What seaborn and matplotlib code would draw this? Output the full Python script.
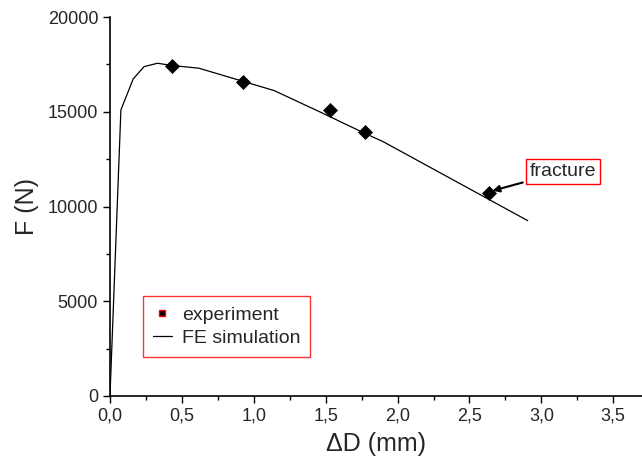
import matplotlib
matplotlib.use('Agg')
import matplotlib.pyplot as plt
from matplotlib.lines import Line2D
from matplotlib.ticker import MultipleLocator, FuncFormatter
import seaborn as sns

# FE simulation curve
fe_dd = [0.0, 0.076, 0.162, 0.238, 0.331, 0.433, 0.618, 0.928, 1.141, 1.458,
         1.775, 1.898, 2.905]
fe_force = [0, 15100, 16740, 17385, 17560, 17440, 17300, 16600, 16120, 15000,
            13850, 13430, 9255]

# experiment points
exp_dd = [0.433, 0.928, 1.528, 1.775, 2.639]
exp_force = [17440, 16595, 15100, 13955, 10735]

sns.set_style('ticks')
plt.rcParams['font.family'] = ['Liberation Sans', 'DejaVu Sans']

fig = plt.figure(figsize=(6.42, 4.65), dpi=100)
ax = fig.add_axes([0.1713, 0.1484, 0.8287, 0.815])

sns.lineplot(x=fe_dd, y=fe_force, color='black', lw=0.9, sort=False, ax=ax)
sns.scatterplot(x=exp_dd, y=exp_force, marker='D', s=50, color='black',
                edgecolor='black', zorder=3, ax=ax)

ax.set_xlim(0, 3.7)
ax.set_ylim(0, 20000)
ax.xaxis.set_major_locator(MultipleLocator(0.5))
ax.xaxis.set_minor_locator(MultipleLocator(0.25))
ax.yaxis.set_major_locator(MultipleLocator(5000))
ax.yaxis.set_minor_locator(MultipleLocator(2500))
ax.xaxis.set_major_formatter(FuncFormatter(lambda v, p: f'{v:.1f}'.replace('.', ',')))
ax.tick_params(which='major', length=5, width=1, labelsize=13, color='black')
ax.tick_params(which='minor', length=3, width=1, color='black')
sns.despine(ax=ax)
for s in ['left', 'bottom']:
    ax.spines[s].set_color('black')
    ax.spines[s].set_linewidth(1.2)

ax.set_xlabel('ΔD (mm)', fontsize=18, labelpad=5)
ax.set_ylabel('F (N)', fontsize=18, labelpad=6)

handles = [
    Line2D([], [], ls='none', marker='s', markersize=5, markerfacecolor='black',
           markeredgecolor='red', markeredgewidth=1),
    Line2D([], [], color='black', lw=0.9),
]
leg = ax.legend(handles, ['experiment', 'FE simulation'], loc='lower left',
                bbox_to_anchor=(0.062, 0.103), borderaxespad=0, fontsize=14,
                frameon=True, fancybox=False, handlelength=1.0, handletextpad=0.5,
                labelspacing=0.3, borderpad=0.5)
leg.get_frame().set_edgecolor('red')
leg.get_frame().set_linewidth(1)

ax.annotate('fracture', xy=(2.66, 10830), xytext=(2.92, 11850),
            fontsize=14, va='center', ha='left',
            bbox=dict(boxstyle='square,pad=0.2', fc='white', ec='red', lw=1),
            arrowprops=dict(arrowstyle='-|>', color='black', lw=1.5,
                            mutation_scale=10, shrinkA=2, shrinkB=0))

fig.savefig('out.png', dpi=100)
